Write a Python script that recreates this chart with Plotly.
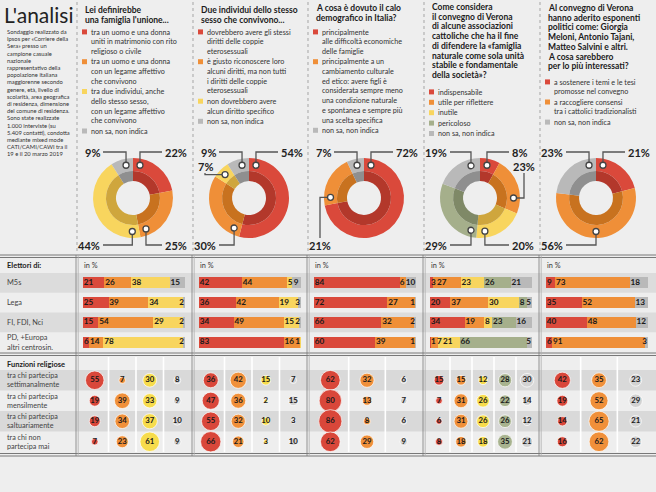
import math
import plotly.graph_objects as go

W, H = 656, 492
FONT = "Lato"

# ---------------- data ----------------
TITLE = "L'analisi"
NOTE_LINES = [
    "Sondaggio realizzato da", "Ipsos per «Corriere della", "Sera» presso un",
    "campione casuale", "nazionale", "rappresentativo della", "popolazione italiana",
    "maggiorenne secondo", "genere, età, livello di", "scolarità, area geografica",
    "di residenza, dimensione", "del comune di residenza.", "Sono state realizzate",
    "1.000 interviste (su", "5.409 contatti), condotta", "mediante mixed mode",
    "CATI/CAMI/CAWI tra il", "19 e il 20 marzo 2019",
]

ELETTORI = ["M5s", "Lega", "FI, FDI, Nci", "PD, +Europa<br>altri centrosin."]
FUNZIONI = ["tra chi partecipa<br>settimanalmente", "tra chi partecipa<br>mensilmente",
            "tra chi partecipa<br>saltuariamente", "tra chi non<br>partecipa mai"]

Q1_TITLE = ["Lei definirebbe", "una famiglia l'unione..."]
Q1_LEGEND = [["tra un uomo e una donna", "uniti in matrimonio con rito", "religioso o civile"],
             ["tra un uomo e una donna", "con un legame affettivo", "che convivono"],
             ["tra due individui, anche", "dello stesso sesso,", "con un legame affettivo", "che convivono"],
             ["non sa, non indica"]]
Q1_KEYS = ["red", "orange", "yellow", "gray"]
Q1_TOTAL = [22, 25, 44, 9]
Q1_ELETTORI = [[21, 26, 38, 15], [25, 39, 34, 2], [15, 54, 29, 2], [6, 14, 78, 2]]
Q1_FUNZIONI = [[55, 7, 30, 8], [19, 39, 33, 9], [19, 34, 37, 10], [7, 23, 61, 9]]

Q2_TITLE = ["Due individui dello stesso", "sesso che convivono..."]
Q2_LEGEND = [["dovrebbero avere gli stessi", "diritti delle coppie", "eterosessuali"],
             ["è giusto riconoscere loro", "alcuni diritti, ma non tutti", "i diritti delle coppie", "eterosessuali"],
             ["non dovrebbero avere", "alcun diritto specifico"],
             ["non sa, non indica"]]
Q2_KEYS = ["red", "orange", "yellow", "gray"]
Q2_TOTAL = [54, 30, 7, 9]
Q2_ELETTORI = [[42, 44, 5, 9], [36, 42, 19, 3], [34, 49, 15, 2], [83, 16, 1, 0]]
Q2_FUNZIONI = [[36, 42, 15, 7], [47, 36, 2, 15], [55, 32, 10, 3], [66, 21, 3, 10]]

Q3_TITLE = ["A cosa è dovuto il calo", "demografico in Italia?"]
Q3_LEGEND = [["principalmente", "alle difficoltà economiche", "delle famiglie"],
             ["principalmente a un", "cambiamento culturale", "ed etico: avere figli è",
              "considerata sempre meno", "una condizione naturale", "e spontanea e sempre più",
              "una scelta specifica"],
             ["non sa, non indica"]]
Q3_KEYS = ["red", "orange", "gray"]
Q3_TOTAL = [72, 21, 7]
Q3_ELETTORI = [[84, 6, 10], [72, 27, 1], [66, 32, 2], [60, 39, 1]]
Q3_FUNZIONI = [[62, 32, 6], [80, 13, 7], [86, 8, 6], [62, 29, 9]]

Q4_TITLE = ["Come considera", "il convegno di Verona", "di alcune associazioni",
            "cattoliche che ha il fine", "di difendere la «famiglia", "naturale come sola unità",
            "stabile e fondamentale", "della società»?"]
Q4_LEGEND = [["indispensabile"], ["utile per riflettere"], ["inutile"], ["pericoloso"], ["non sa, non indica"]]
Q4_KEYS = ["red", "orange", "yellow", "green", "gray"]
Q4_TOTAL = [8, 23, 20, 29, 19]
Q4_ELETTORI = [[3, 27, 23, 26, 21], [20, 37, 30, 8, 5], [34, 19, 8, 23, 16], [1, 7, 21, 66, 5]]
Q4_FUNZIONI = [[15, 15, 12, 28, 30], [7, 31, 26, 22, 14], [6, 31, 26, 26, 12], [8, 18, 18, 35, 21]]

Q5_TITLE = ["Al convegno di Verona", "hanno aderito esponenti", "politici come: Giorgia",
            "Meloni, Antonio Tajani,", "Matteo Salvini e altri.", "A cosa sarebbero",
            "per lo più interessati?"]
Q5_LEGEND = [["a sostenere i temi e le tesi", "promosse nel convegno"],
             ["a raccogliere consensi", "tra i cattolici tradizionalisti"],
             ["non sa, non indica"]]
Q5_KEYS = ["red", "orange", "gray"]
Q5_TOTAL = [21, 56, 23]
Q5_ELETTORI = [[9, 73, 18], [35, 52, 13], [40, 48, 12], [6, 91, 3]]
Q5_FUNZIONI = [[42, 35, 23], [19, 52, 29], [14, 65, 21], [16, 62, 22]]

QUESTIONS = [
    (Q1_TITLE, Q1_LEGEND, Q1_KEYS, Q1_TOTAL, Q1_ELETTORI, Q1_FUNZIONI),
    (Q2_TITLE, Q2_LEGEND, Q2_KEYS, Q2_TOTAL, Q2_ELETTORI, Q2_FUNZIONI),
    (Q3_TITLE, Q3_LEGEND, Q3_KEYS, Q3_TOTAL, Q3_ELETTORI, Q3_FUNZIONI),
    (Q4_TITLE, Q4_LEGEND, Q4_KEYS, Q4_TOTAL, Q4_ELETTORI, Q4_FUNZIONI),
    (Q5_TITLE, Q5_LEGEND, Q5_KEYS, Q5_TOTAL, Q5_ELETTORI, Q5_FUNZIONI),
]

# ---------------- style / layout ----------------
C_MAIN = {"red": "#da493b", "orange": "#ef8f38", "yellow": "#f8d55e", "gray": "#b9b9b9", "green": "#a5af8b"}
C_DARK = {"red": "#b3382b", "orange": "#c8721f", "yellow": "#cfa63d", "gray": "#8f8f8f", "green": "#7f8967"}
C_BUB = {"red": "#d9473a", "orange": "#f0903a", "yellow": "#f7dc4c", "gray": "#d2d2d2", "green": "#a8b38f"}

COL_L = [77, 193, 308, 424, 540]
TITLE_Y0 = [10, 10, 8, 7, 8]
LEGEND_Y0 = [32, 32, 32, 92, 82]
DON_CY, R_OUT, R_MID, R_HOLE, R_MARK = 198, 40, 27, 17, 33.5
TOP_ROW, BOT_ROW = 152, 245
BAR_TOP, BAR_BOT = 273, 352
REL_TOP, REL_DY = 370, 20.5
BAR_PX = 102  # pixel length of a 100% bar
DIGIT_PX = 4.6

shapes, annots = [], []


def ann(x, y, text, size=7.3, color="#333", xanchor="left", yanchor="middle"):
    annots.append(dict(x=x, y=y, xref="x", yref="y", text=text, showarrow=False,
                       xanchor=xanchor, yanchor=yanchor, align="left", borderpad=0,
                       font=dict(family=FONT, size=size, color=color)))


def rect(x0, y0, x1, y1, color, layer="below"):
    shapes.append(dict(type="rect", xref="x", yref="y", x0=x0, x1=x1, y0=y0, y1=y1,
                       fillcolor=color, line=dict(width=0), layer=layer))


def seg(x0, y0, x1, y1, color, width=1.0, dash="solid", layer="below"):
    shapes.append(dict(type="line", xref="x", yref="y", x0=x0, x1=x1, y0=y0, y1=y1,
                       line=dict(color=color, width=width, dash=dash), layer=layer))


fig = go.Figure()

# ---- background bands / rules ----
for r in (0, 2):
    h = (BAR_BOT - BAR_TOP) / 4
    rect(0, BAR_TOP + h * r, W, BAR_TOP + h * (r + 1), "#dcdcdc")
    rect(0, REL_TOP + REL_DY * r, W, REL_TOP + REL_DY * (r + 1), "#d9d9d9")
for yy in (255, 257.5, 353, 355.5, 453.5, 456):
    seg(0, yy, W, yy, "#6a6a6a", 0.9)
for L in COL_L:
    seg(L, 2, L, 252, "#a5a5a5", 1, "dot")
    seg(L - 1, 255, L - 1, 456, "#7a7a7a", 0.8)
    seg(L + 1.2, 255, L + 1.2, 456, "#b0b0b0", 0.8)

# ---- left column text ----
ann(3, 14, TITLE, size=21, color="#222")
for i, t in enumerate(NOTE_LINES):
    ann(6, 31.5 + 7.2 * i, t, size=5.8, color="#333")
ann(6, 265.5, "<b>Elettori di:</b>", size=7.5, color="#222")
for i, t in enumerate(ELETTORI):
    h = (BAR_BOT - BAR_TOP) / 4
    ann(6, BAR_TOP + h * (i + 0.5), t, size=7.4, color="#444")
ann(6, 364, "<b>Funzioni religiose</b>", size=7.5, color="#222")
for i, t in enumerate(FUNZIONI):
    ann(6, REL_TOP + REL_DY * (i + 0.5), t, size=7.2, color="#444")

layout_axes = {}


def callouts(vals, L):
    cx, cy = L + 56, DON_CY
    a, sl = 0.0, []
    n = len(vals)
    for idx, v in enumerate(vals):
        a0, a1 = a, a + v * 3.6
        a = a1
        m = min(12, (a1 - a0) / 2)
        lo, hi = a0 + m, a1 - m
        if idx == 0:
            cands = ((0, "top"),)
        elif idx == n - 1:
            cands = ((360, "top"),)
        else:
            cands = ((0, "top"), (360, "top"), (180, "bottom"))
        best = None
        for target, row in cands:
            t = min(max(target, lo), hi)
            d = abs(t - target)
            if best is None or d < best[0]:
                best = (d, t, row)
        sl.append(dict(v=v, lo=lo, hi=hi, d=best[0], ang=best[1], row=best[2]))
    used = set()
    for i in sorted(range(n), key=lambda j: sl[j]["d"]):
        s = sl[i]
        side = "right" if math.sin(math.radians(s["ang"])) > 1e-6 else "left"
        row, kind, level, ang = s["row"], "vert", 0, s["ang"]
        if (row, side, 0) in used:
            other = "bottom" if row == "top" else "top"
            if (other, side, 0) not in used:
                row = other
            else:
                level = 1
            kind = "side"
            target = 90 if side == "right" else 270
            ang = min(max(target, s["lo"]), s["hi"])
        used.add((row, side, level))
        base = TOP_ROW if row == "top" else BOT_ROW
        ry = base + (14 if row == "top" else -14) * level
        mx = cx + R_MARK * math.sin(math.radians(ang))
        my = cy - R_MARK * math.cos(math.radians(ang))
        label = f"<b>{s['v']}%</b>"
        if kind == "vert":
            edge = cx - 32 if side == "left" else cx + 31
            path = f"M {mx},{my} L {mx},{ry} L {edge + (2 if side == 'left' else -2)},{ry}"
            ann(edge, ry, label, size=11, color="#222", xanchor="right" if side == "left" else "left")
        else:
            xs = cx - 44 if side == "left" else cx + 44
            yend = ry + 7 if ry < my else ry - 7
            path = f"M {mx},{my} L {xs},{my} L {xs},{yend}"
            ann(xs, ry, label, size=11, color="#222", xanchor="center")
        shapes.append(dict(type="path", xref="x", yref="y", path=path,
                           line=dict(color="#555", width=1.3), layer="above"))
        shapes.append(dict(type="circle", xref="x", yref="y", x0=mx - 3, x1=mx + 3, y0=my - 3, y1=my + 3,
                           fillcolor="white", line=dict(color="#444", width=1.3), layer="above"))


def bar_label_positions(row):
    """Left edges (in % units) of the value labels of one stacked bar, kept apart and inside."""
    unit = 100 / BAR_PX
    items, start = [], 0
    for v in row:
        if v:
            items.append([start + 1.0 * unit, len(str(v)) * DIGIT_PX * unit, v])
        start += v
    gap = 1.5 * unit
    for i in range(1, len(items)):
        items[i][0] = max(items[i][0], items[i - 1][0] + items[i - 1][1] + gap)
    if items and items[-1][0] + items[-1][1] > 100 - 0.5 * unit:
        items[-1][0] = 100 - 1.0 * unit - items[-1][1]
        for i in range(len(items) - 2, -1, -1):
            items[i][0] = min(items[i][0], items[i + 1][0] - gap - items[i][1])
    return [(x + w / 2, v) for x, w, v in items]


for k, (qt, leg, keys, tot, ele, fun) in enumerate(QUESTIONS):
    L = COL_L[k]
    # question title + legend
    for i, t in enumerate(qt):
        ann(L + 7, TITLE_Y0[k] + 9.7 * i, f"<b>{t}</b>", size=8.5, color="#1b1b1b")
    li = 0
    for e, (lines, key) in enumerate(zip(leg, keys)):
        y0 = LEGEND_Y0[k] + 9.7 * li + 0.7 * e
        rect(L + 5, y0 - 2.6, L + 10, y0 + 2.4, C_MAIN[key])
        for j, t in enumerate(lines):
            ann(L + 13, y0 + 9.7 * j, t, size=7.2, color="#333")
        li += len(lines)

    # donut (outer light ring + inner dark ring)
    cx, cy = L + 56, DON_CY
    for rad, hole, cmap in ((R_OUT, R_MID / R_OUT, C_MAIN), (R_MID, R_HOLE / R_MID, C_DARK)):
        fig.add_trace(go.Pie(
            values=tot, labels=[f"{key}{k}" for key in keys], sort=False, direction="clockwise",
            rotation=0, hole=hole, textinfo="none", hoverinfo="skip", showlegend=False,
            marker=dict(colors=[cmap[key] for key in keys], line=dict(width=0)),
            domain=dict(x=[(cx - rad) / W, (cx + rad) / W], y=[1 - (cy + rad) / H, 1 - (cy - rad) / H]),
        ))
    callouts(tot, L)

    # stacked bars per electorate
    xa = f"x{k + 2}"
    layout_axes[f"xaxis{k + 2}"] = dict(domain=[(L + 6) / W, (L + 6 + BAR_PX) / W], range=[0, 100],
                                       anchor="y2", visible=False, fixedrange=True)
    ann(L + 6, 265.5, "in %", size=7.3, color="#333")
    for j, key in enumerate(keys):
        vals = [row[j] for row in ele]
        fig.add_trace(go.Bar(
            x=vals, y=ELETTORI, orientation="h", xaxis=xa, yaxis="y2", width=0.56,
            marker=dict(color=C_MAIN[key], line=dict(width=0)),
            hoverinfo="skip", showlegend=False,
        ))
    tx, ty, tt = [], [], []
    for r, row in enumerate(ele):
        for xc, v in bar_label_positions(row):
            tx.append(xc)
            ty.append(ELETTORI[r])
            tt.append(str(v))
    fig.add_trace(go.Scatter(
        x=tx, y=ty, text=tt, mode="text", textposition="middle center", xaxis=xa, yaxis="y2",
        textfont=dict(family=FONT, size=8.2, color="#1a1a1a", weight="bold"),
        hoverinfo="skip", showlegend=False, cliponaxis=False,
    ))

    # bubbles per religious attendance
    n = len(keys)
    xsub = [L + 4 + 110 * (i + 0.5) / n for i in range(n)]
    for i in range(1, n):
        seg(L + 4 + 110 * i / n, 357, L + 4 + 110 * i / n, 452, "#ffffff", 1.6)
    bx, by, bs, bc, bt = [], [], [], [], []
    for r, row in enumerate(fun):
        for i, v in enumerate(row):
            bx.append(xsub[i])
            by.append(REL_TOP + REL_DY * (r + 0.5))
            bs.append(2.5 * math.sqrt(v))
            bc.append(C_BUB[keys[i]])
            bt.append(str(v))
    fig.add_trace(go.Scatter(
        x=bx, y=by, mode="markers+text", xaxis="x", yaxis="y",
        marker=dict(size=bs, color=bc, opacity=1, line=dict(width=1, color="rgba(255,255,255,0.7)")),
        text=bt, textposition="middle center",
        textfont=dict(family=FONT, size=7.8, color="#1a1a1a", weight="bold"),
        hoverinfo="skip", showlegend=False, cliponaxis=False,
    ))

fig.update_layout(
    width=W, height=H, margin=dict(l=0, r=0, t=0, b=0),
    paper_bgcolor="#eeeeee", plot_bgcolor="rgba(0,0,0,0)", showlegend=False,
    barmode="stack",
    xaxis=dict(range=[0, W], domain=[0, 1], visible=False, fixedrange=True),
    yaxis=dict(range=[H, 0], domain=[0, 1], visible=False, fixedrange=True),
    yaxis2=dict(domain=[1 - BAR_BOT / H, 1 - BAR_TOP / H], anchor="x2", type="category",
                categoryorder="array", categoryarray=ELETTORI, range=[3.5, -0.5],
                visible=False, fixedrange=True),
    shapes=shapes, annotations=annots,
    **layout_axes,
)

fig.write_html("out.html", config={"staticPlot": True},
               post_script="document.body.style.margin='0px';document.body.style.background='#eeeeee';")
